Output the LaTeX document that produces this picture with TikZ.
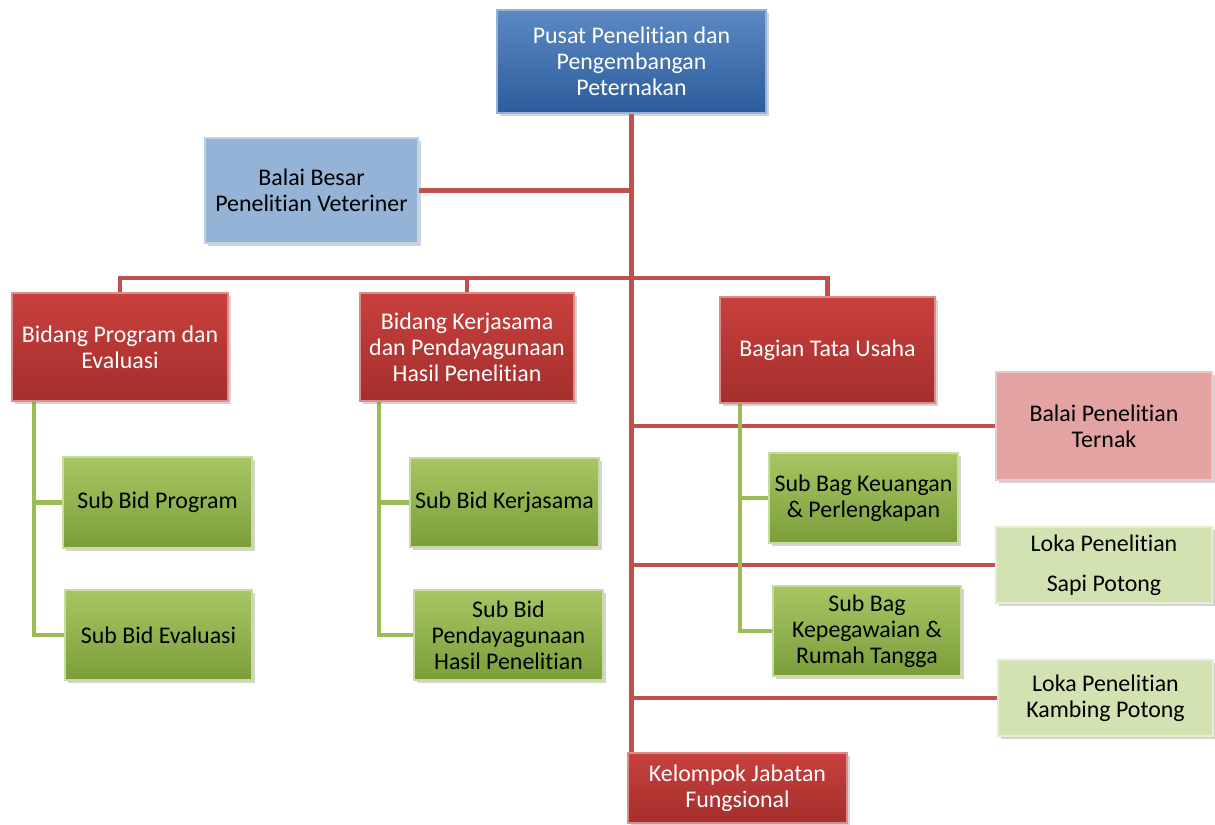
\documentclass[tikz,border=0pt]{standalone}
\usepackage{fontspec}
\setmainfont{Carlito}[Ligatures=NoCommon]
\usetikzlibrary{shadows,backgrounds}
\definecolor{orgblue}{HTML}{3F74B8}
\definecolor{orgbluedark}{HTML}{2C5C9C}
\definecolor{orgsky}{HTML}{95B3D7}
\definecolor{orgred}{HTML}{C8403D}
\definecolor{orgreddark}{HTML}{A42F2C}
\definecolor{orgrose}{HTML}{E3A3A2}
\definecolor{orggreen}{HTML}{9DC052}
\definecolor{orggreendark}{HTML}{7B9E3A}
\definecolor{orgpale}{HTML}{D2E2B0}
\definecolor{orgline}{HTML}{C0504D}
\definecolor{orgsubline}{HTML}{9BBB59}
\tikzset{
  box/.style={align=center, inner sep=2pt, font=\fontsize{13.6}{14.8}\selectfont,
    drop shadow={opacity=0.35, shadow xshift=1.6pt, shadow yshift=-1.6pt}},
  head/.style={box, top color=orgblue!85!white, bottom color=orgbluedark,
    draw=orgblue!55!white, line width=0.8pt, text=white},
  balai/.style={box, fill=orgsky, draw=orgsky!60!white, line width=0.8pt},
  bidang/.style={box, top color=orgred, bottom color=orgreddark,
    draw=orgred!60!white, line width=0.8pt, text=white},
  subunit/.style={box, top color=orggreen!90!white, bottom color=orggreendark,
    draw=orggreen!55!white, line width=0.8pt},
  unitrose/.style={box, fill=orgrose, draw=orgrose!60!white, line width=0.8pt},
  unitpale/.style={box, fill=orgpale, draw=orgpale!60!white, line width=0.8pt},
  link/.style={draw=orgline, line width=2.8pt},
  sublink/.style={draw=orgsubline, line width=2.4pt},
}

\begin{document}
\begin{tikzpicture}[x=0.02cm, y=-0.02cm]
\useasboundingbox (0,0) rectangle (1215,825);
\coordinate (bus) at (630,278);
\node[head, minimum width=5.38cm, minimum height=2.06cm] (puslit) at (631.5,61.5)
  {Pusat Penelitian dan\\Pengembangan\\Peternakan};
\node[balai, minimum width=4.26cm, minimum height=2.10cm] (bbpv) at (311.5,190.5)
  {Balai Besar\\Penelitian Veteriner};
\node[bidang, minimum width=4.32cm, minimum height=2.16cm] (bpe) at (120,347)
  {Bidang Program dan\\Evaluasi};
\node[bidang, minimum width=4.28cm, minimum height=2.16cm] (bkp) at (467,347)
  {Bidang Kerjasama\\dan Pendayagunaan\\Hasil Penelitian};
\node[bidang, minimum width=4.30cm, minimum height=2.12cm] (btu) at (827.5,350)
  {Bagian Tata Usaha};
\node[unitrose, minimum width=4.32cm, minimum height=2.16cm] (bpt) at (1104,426)
  {Balai Penelitian\\Ternak};
\node[subunit, minimum width=3.78cm, minimum height=1.82cm] (sbprog) at (157.5,502.5)
  {Sub Bid Program};
\node[subunit, minimum width=3.74cm, minimum height=1.80cm] (sbeval) at (158.5,635)
  {Sub Bid Evaluasi};
\node[subunit, minimum width=3.78cm, minimum height=1.78cm] (sbkerja) at (504.5,502.5)
  {Sub Bid Kerjasama};
\node[subunit, minimum width=3.78cm, minimum height=1.80cm] (sbdaya) at (508.5,635)
  {Sub Bid\\Pendayagunaan\\Hasil Penelitian};
\node[subunit, minimum width=3.78cm, minimum height=1.80cm] (sbuang) at (863.5,498)
  {Sub Bag Keuangan\\\& Perlengkapan};
\node[subunit, minimum width=3.76cm, minimum height=1.80cm] (sbpeg) at (867,631)
  {Sub Bag\\Kepegawaian \&\\Rumah Tangga};
\node[unitpale, minimum width=4.32cm, minimum height=1.52cm] (lsapi) at (1104,565)
  {Loka Penelitian\\[8pt]Sapi Potong};
\node[unitpale, minimum width=4.30cm, minimum height=1.52cm] (lkambing) at (1105.5,698)
  {Loka Penelitian\\Kambing Potong};
\node[bidang, minimum width=4.38cm, minimum height=1.40cm] (kjf) at (737.5,788)
  {Kelompok Jabatan\\Fungsional};
% connectors behind the boxes
\begin{scope}[on background layer]
\draw[link] (puslit.south) -- (puslit.south |- kjf.north);
\draw[link] (bbpv.east) -- (bbpv.east -| puslit.south);
\draw[link] (bpe.north) |- (bus) -| (btu.north);
\draw[link] (bkp.north) -- (bkp.north |- bus);
\draw[link] (puslit.south |- bpt.west) -- (bpt.west);
\draw[link] (puslit.south |- lsapi.west) -- (lsapi.west);
\draw[link] (puslit.south |- lkambing.west) -- (lkambing.west);
\draw[sublink] ([xshift=0.46cm]bpe.south west) |- (sbeval.west);
\draw[sublink] ([xshift=0.46cm]bpe.south west |- sbprog.west) -- (sbprog.west);
\draw[sublink] ([xshift=0.40cm]bkp.south west) |- (sbdaya.west);
\draw[sublink] ([xshift=0.40cm]bkp.south west |- sbkerja.west) -- (sbkerja.west);
\draw[sublink] ([xshift=0.42cm]btu.south west) |- (sbpeg.west);
\draw[sublink] ([xshift=0.42cm]btu.south west |- sbuang.west) -- (sbuang.west);
\end{scope}
\end{tikzpicture}
\end{document}
